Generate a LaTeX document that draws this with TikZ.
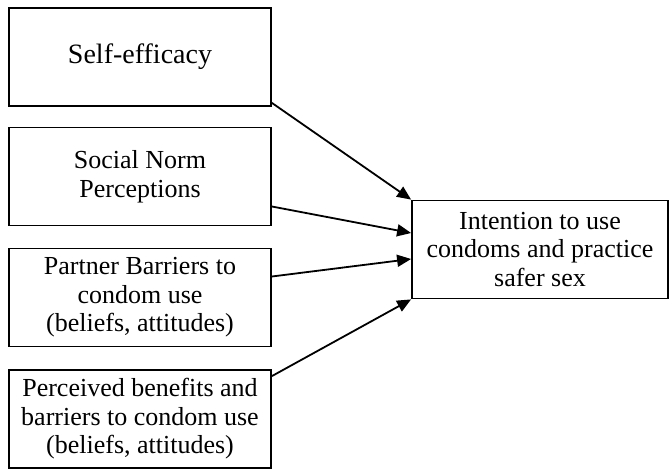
\documentclass[tikz,border=0pt]{standalone}
\usepackage{fontspec}
\setmainfont{Liberation Serif}
\usetikzlibrary{arrows.meta}
\tikzset{
  factor/.style={draw,line width=1.8pt,minimum width=262pt,minimum height=98pt,
    align=center,inner sep=0pt,font=\fontsize{26}{28.5}\selectfont},
  arr/.style={line width=1.8pt,-{Triangle[length=14pt,width=12pt]}}
}
\begin{document}
\begin{tikzpicture}[x=1pt,y=-1pt]
	\useasboundingbox (0,0) rectangle (669,470);
	% predictors
	\node[factor,font=\fontsize{28}{32}\selectfont] (self) at (140,57) {Self-efficacy};
	\node[factor] (norm) at (140,176.5) {Social Norm\\Perceptions};
	\node[factor] (partner) at (140,297.5) {Partner Barriers to\\condom use\\(beliefs, attitudes)};
	\node[factor] (benefit) at (140,419) {Perceived benefits and\\barriers to condom use\\(beliefs, attitudes)};
	% outcome
	\node[factor,minimum width=256pt] (intent) at (540,249.5) {Intention to use\\condoms and practice\\safer sex};
	\draw[arr] ([yshift=4pt]self.south east) -- (intent.north west);
	\draw[arr] ([yshift=-30pt]norm.east) -- ([yshift=16.5pt]intent.west);
	\draw[arr] ([yshift=21pt]partner.east) -- ([yshift=-9.5pt]intent.west);
	\draw[arr] ([yshift=-7pt]benefit.north east) -- (intent.south west);
\end{tikzpicture}
\end{document}
